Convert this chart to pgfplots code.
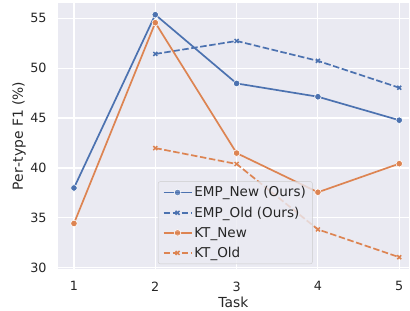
\documentclass[border=0pt]{standalone}
\usepackage{fontspec}
\setmainfont{DejaVu Sans}
\usepackage{pgfplots}
\pgfplotsset{compat=1.18}
\definecolor{sbblue}{HTML}{4C72B0}
\definecolor{sborange}{HTML}{DD8452}
\definecolor{sbbg}{HTML}{EAEAF2}
\definecolor{sbtext}{HTML}{262626}
\begin{document}
\begin{tikzpicture}
\begin{axis}[name=ax, scale only axis, width=351.3bp, height=266bp,
  xmin=0.8, xmax=5.12, ymin=29.89, ymax=56.51,
  axis background/.style={fill=sbbg},
  axis line style={draw=none},
  grid=major, major grid style={white, line width=1.1bp},
  major tick length=0,
  xtick={1,2,3,4,5}, ytick={30,35,40,45,50,55},
  tick label style={font=\fontsize{12.8}{15}\selectfont, text=sbtext},
  /pgf/number format/assume math mode=true,
  yticklabel style={inner sep=0pt, anchor=east, xshift=-11bp},
  xticklabel style={inner sep=0pt, anchor=north, yshift=-12.5bp},
  xlabel={Task}, ylabel={Per\kern0.5pt\char"2010\kern0.5pt type F1 (\%)},
  label style={font=\fontsize{13.9}{16}\selectfont, text=sbtext},
  xlabel style={at={(axis description cs:0.5,-0.124)}, anchor=center},
  ylabel style={at={(axis description cs:-0.11,0.5)}, anchor=center},
  legend cell align=left,
  legend image code/.code={\draw[mark repeat=2,mark phase=2,#1] plot coordinates {(0bp,0bp) (14bp,0bp) (28bp,0bp)};},
  legend style={at={(0.2855,0.0188)}, anchor=south west, fill=sbbg, fill opacity=0.8, text opacity=1,
    draw=black!20, rounded corners=2bp, font=\fontsize{13.6}{15}\selectfont, text=sbtext,
    row sep=4.5bp, inner xsep=4.5bp, inner ysep=3bp},
  every axis plot/.append style={line width=1.7bp},
]
\addplot[sbblue, mark=*, mark size=3.3bp, mark options={draw=white, line width=0.6bp, fill=sbblue, solid}]
  coordinates {(1,38.0) (2,55.34) (3,48.46) (4,47.13) (5,44.78)};
\addlegendentry{EMP\_New (Ours)}
\addplot[sbblue, dash pattern=on 6.5bp off 2.6bp, mark=x, mark size=2.8bp, mark options={solid, line width=1.5bp}]
  coordinates {(2,51.41) (3,52.71) (4,50.72) (5,48.03)};
\addlegendentry{EMP\_Old (Ours)}
\addplot[sborange, mark=*, mark size=3.3bp, mark options={draw=white, line width=0.6bp, fill=sborange, solid}]
  coordinates {(1,34.45) (2,54.54) (3,41.49) (4,37.57) (5,40.43)};
\addlegendentry{KT\_New}
\addplot[sborange, dash pattern=on 6.5bp off 2.6bp, mark=x, mark size=2.8bp, mark options={solid, line width=1.5bp}]
  coordinates {(2,41.99) (3,40.4) (4,33.85) (5,31.07)};
\addlegendentry{KT\_Old}
\end{axis}
\pgfresetboundingbox
\path (ax.south west) ++(-57.7bp,-42bp) rectangle ++(410bp,311bp);
\end{tikzpicture}
\end{document}
